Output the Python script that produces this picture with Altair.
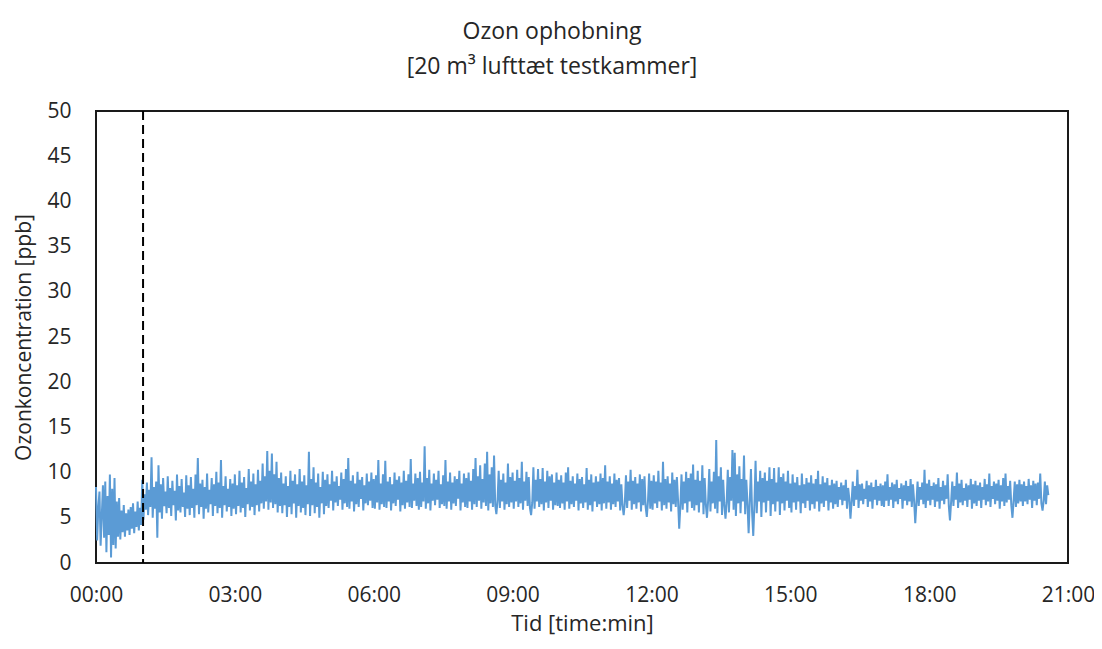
import altair as alt
import pandas as pd

# Ozone readings (ppb), one sample every 1.5 minutes, grouped per hour
h00 = [8.4, 2.5, 6.1, 7.9, 1.9, 5.2, 8.6, 2.8, 9.0, 1.2, 7.4, 3.1, 9.8, 0.6, 8.2, 2.0, 9.4, 1.6, 6.8, 2.9,
       7.2, 2.6, 5.8, 3.4, 6.4, 2.9, 5.5, 3.6, 5.9, 3.1, 6.2, 3.8, 6.6, 3.3, 5.7, 4.0, 6.8, 3.6, 6.1, 4.2]
h01 = [9.2, 4.8, 7.6, 5.9, 8.9, 5.3, 8.1, 6.2, 11.7, 5.0, 8.4, 6.0, 9.0, 2.8, 10.8, 5.6, 8.7, 4.9, 9.4, 6.3,
       7.9, 5.5, 9.6, 6.1, 8.3, 5.2, 9.1, 6.4, 8.0, 4.7, 9.8, 5.8, 8.5, 5.6, 9.3, 6.2, 7.8, 5.1, 9.7, 6.0]
h02 = [8.6, 5.3, 9.5, 6.1, 8.2, 5.0, 9.8, 6.4, 11.6, 5.4, 8.8, 6.2, 9.2, 4.9, 8.4, 6.0, 9.9, 5.6, 8.1, 6.5,
       9.4, 5.2, 8.7, 6.3, 10.1, 5.5, 8.9, 6.1, 11.4, 5.0, 8.5, 6.4, 9.6, 5.7, 8.2, 6.2, 9.3, 5.2, 8.8, 6.0]
h03 = [9.8, 5.4, 8.6, 6.3, 10.2, 5.6, 8.9, 6.1, 9.5, 5.1, 8.3, 6.5, 10.4, 5.8, 9.0, 6.2, 9.9, 5.3, 8.7, 6.4,
       10.3, 5.7, 9.1, 6.6, 11.0, 6.0, 9.6, 6.8, 12.4, 5.9, 10.2, 6.7, 12.1, 6.1, 9.8, 6.5, 11.2, 5.6, 9.4, 6.3]
h04 = [10.0, 5.5, 8.8, 6.4, 9.6, 5.1, 8.5, 6.2, 10.2, 5.4, 9.1, 6.6, 9.8, 5.0, 8.7, 6.3, 10.4, 5.6, 9.0, 6.1,
       9.7, 5.3, 8.6, 6.5, 12.3, 5.2, 9.3, 6.4, 10.6, 5.5, 8.9, 6.2, 9.9, 5.0, 8.4, 6.6, 10.1, 5.4, 9.2, 6.3]
h05 = [9.8, 6.1, 8.7, 6.9, 10.2, 5.8, 9.0, 6.7, 9.6, 6.3, 8.5, 7.0, 10.0, 5.9, 9.3, 6.6, 10.4, 6.2, 11.6, 6.0,
       9.1, 6.8, 9.7, 5.7, 8.8, 6.5, 10.1, 6.2, 9.2, 7.1, 9.5, 5.8, 8.6, 6.6, 9.9, 6.4, 9.0, 6.9, 10.0, 6.1]
h06 = [9.3, 6.0, 9.7, 6.7, 11.4, 5.9, 8.8, 6.5, 9.8, 6.2, 11.3, 6.1, 9.0, 6.8, 9.5, 5.8, 8.7, 6.6, 10.0, 6.3,
       9.2, 7.0, 9.6, 5.7, 8.9, 6.4, 10.2, 6.0, 9.1, 6.7, 9.8, 6.2, 11.5, 6.1, 8.8, 6.9, 9.9, 6.3, 9.4, 5.9]
h07 = [10.1, 6.2, 8.9, 6.8, 12.9, 6.0, 9.4, 6.6, 10.3, 5.8, 8.8, 6.9, 9.9, 6.4, 9.2, 7.0, 10.2, 6.1, 8.7, 6.5,
       9.7, 6.3, 11.4, 6.0, 9.0, 6.8, 10.0, 5.9, 8.9, 6.6, 9.6, 6.3, 9.3, 7.1, 10.2, 5.8, 8.8, 6.7, 9.9, 6.2]
h08 = [9.4, 6.1, 10.0, 6.8, 9.1, 5.9, 10.4, 6.5, 11.6, 6.2, 9.6, 6.9, 10.8, 6.0, 9.3, 6.7, 11.0, 6.3, 12.3, 5.8,
       9.8, 6.6, 10.6, 6.2, 11.9, 6.4, 5.4, 6.9, 10.2, 6.1, 9.2, 6.8, 9.9, 5.9, 8.9, 6.5, 11.0, 6.2, 9.5, 6.7]
h09 = [10.0, 6.0, 9.1, 6.8, 10.3, 6.2, 9.4, 6.6, 11.2, 5.9, 9.0, 6.9, 10.1, 6.3, 9.5, 6.1, 5.3, 6.7, 10.6, 6.0,
       9.2, 6.8, 10.4, 6.2, 9.3, 6.5, 10.5, 5.8, 9.0, 6.7, 10.2, 6.1, 9.6, 6.9, 9.8, 5.9, 8.9, 6.4, 10.0, 6.3]
h10 = [9.2, 6.1, 9.7, 6.6, 8.9, 5.9, 10.0, 6.8, 10.6, 6.0, 9.1, 6.5, 9.6, 6.2, 8.8, 6.9, 9.9, 5.8, 9.3, 6.6,
       9.5, 6.1, 8.7, 6.7, 10.5, 5.9, 9.2, 6.4, 9.8, 5.7, 8.9, 6.8, 9.6, 6.2, 9.0, 6.5, 9.9, 5.8, 9.4, 6.6]
h11 = [10.8, 6.0, 9.0, 6.7, 9.6, 5.9, 8.8, 6.5, 9.9, 6.2, 9.2, 6.8, 9.4, 5.8, 8.7, 6.4, 5.3, 6.6, 9.7, 6.1,
       9.0, 6.9, 10.3, 5.9, 9.1, 6.5, 9.5, 6.0, 8.8, 6.7, 9.8, 5.7, 9.3, 6.4, 9.6, 6.2, 5.1, 6.8, 9.9, 6.0]
h12 = [9.1, 5.9, 9.7, 6.6, 9.0, 6.1, 10.2, 6.8, 8.9, 5.8, 11.2, 6.4, 9.3, 6.0, 9.6, 6.7, 8.8, 5.7, 10.0, 6.5,
       9.2, 6.2, 9.5, 6.9, 3.8, 6.3, 9.8, 5.9, 9.0, 6.6, 10.1, 5.6, 9.4, 6.8, 9.9, 6.1, 10.9, 5.8, 9.2, 6.4]
h13 = [10.2, 5.6, 9.1, 6.7, 10.8, 5.4, 9.4, 6.5, 5.0, 6.9, 10.4, 5.7, 9.0, 6.6, 10.1, 6.0, 13.6, 5.5, 9.6, 6.8,
       10.6, 5.3, 9.2, 6.4, 4.9, 6.7, 10.3, 5.6, 9.5, 6.9, 12.5, 5.9, 12.2, 5.2, 9.8, 6.6, 10.7, 5.5, 9.3, 6.8]
h14 = [11.9, 5.4, 9.2, 6.6, 3.3, 6.9, 10.4, 5.6, 3.0, 6.5, 11.3, 5.5, 9.0, 6.8, 10.2, 5.1, 9.4, 6.7, 10.0, 5.6,
       9.1, 6.9, 10.6, 5.2, 9.3, 6.5, 10.5, 5.7, 8.9, 6.8, 10.6, 5.3, 9.5, 6.6, 9.9, 5.8, 9.0, 6.9, 10.2, 6.1]
h15 = [8.8, 5.6, 9.8, 6.7, 8.9, 5.9, 9.5, 6.8, 8.6, 5.5, 9.9, 6.6, 8.7, 6.1, 9.4, 6.9, 8.9, 5.8, 9.7, 6.5,
       8.8, 6.0, 9.3, 6.8, 10.2, 5.7, 8.7, 6.6, 9.6, 6.2, 8.9, 6.9, 9.4, 5.8, 8.6, 6.7, 9.2, 6.0, 8.8, 6.5]
h16 = [9.1, 6.2, 8.4, 7.0, 8.9, 6.4, 8.6, 6.9, 9.2, 6.0, 8.3, 7.1, 4.9, 6.8, 9.0, 6.3, 8.5, 7.0, 10.3, 6.1,
       8.7, 6.9, 8.8, 6.5, 8.2, 7.1, 9.1, 6.2, 8.6, 6.8, 8.9, 6.0, 8.4, 7.0, 9.2, 6.4, 8.5, 6.9, 8.8, 6.3]
h17 = [8.6, 6.2, 9.0, 6.9, 9.8, 6.3, 8.4, 7.0, 8.9, 6.1, 8.7, 6.8, 9.2, 6.5, 8.3, 7.1, 8.8, 6.0, 8.6, 6.9,
       9.1, 6.4, 8.5, 6.8, 9.3, 6.2, 8.7, 6.9, 4.4, 6.6, 9.0, 6.3, 8.4, 7.0, 8.9, 6.5, 10.3, 6.1, 8.8, 6.9]
h18 = [9.2, 6.4, 8.5, 7.0, 8.9, 6.2, 8.7, 6.8, 9.4, 6.0, 8.4, 6.9, 9.1, 6.5, 8.6, 7.1, 9.8, 6.3, 4.7, 6.8,
       9.0, 6.3, 8.5, 7.0, 10.0, 6.1, 8.8, 6.7, 9.2, 6.4, 8.3, 6.9, 8.8, 6.2, 8.6, 7.0, 9.3, 6.0, 8.7, 6.6]
h19 = [9.1, 6.3, 8.6, 6.9, 8.9, 6.1, 8.4, 7.0, 9.3, 6.4, 8.7, 6.8, 9.9, 6.2, 8.5, 7.1, 9.0, 6.5, 8.8, 6.9,
       9.2, 6.0, 8.6, 6.8, 9.4, 6.3, 9.9, 6.7, 8.5, 7.0, 9.1, 6.4, 5.0, 6.9, 9.0, 6.2, 8.7, 6.6, 9.2, 6.8]
h20 = [8.7, 6.3, 9.0, 6.8, 8.5, 6.5, 9.3, 7.0, 8.6, 6.1, 9.1, 6.9, 8.8, 6.4, 8.9, 7.1, 9.9, 6.6, 5.8, 6.9,
       9.0, 6.5, 8.6, 7.5]

ozone = h00 + h01 + h02 + h03 + h04 + h05 + h06 + h07 + h08 + h09 + h10 + \
    h11 + h12 + h13 + h14 + h15 + h16 + h17 + h18 + h19 + h20
sample_step_min = 1.5
minutes = [i * sample_step_min for i in range(len(ozone))]

x_ticks = [0, 180, 360, 540, 720, 900, 1080, 1260]
y_ticks = [0, 5, 10, 15, 20, 25, 30, 35, 40, 45, 50]
marker_minute = [61]

df = pd.DataFrame({"minute": minutes, "ppb": ozone})
marker_df = pd.DataFrame({"minute": marker_minute})

FONT = "Open Sans"
TXT = "#262626"

x_enc = alt.X(
    "minute:Q",
    scale=alt.Scale(domain=[0, 1260], nice=False, zero=False),
    axis=alt.Axis(
        values=x_ticks,
        labelExpr="(datum.value/60 < 10 ? '0' : '') + (datum.value/60) + ':00'",
        title="Tid [time:min]",
        grid=False, ticks=False, domain=False, labelFlush=False,
        labelFontSize=21, titleFontSize=22, labelPadding=21, titlePadding=8,
        labelColor=TXT, titleColor=TXT,
        labelFont=FONT, titleFont=FONT, titleFontWeight="normal",
    ),
)

line = alt.Chart(df).mark_line(color="#5B9BD5", strokeWidth=2.0).encode(
    x=x_enc,
    y=alt.Y(
        "ppb:Q",
        scale=alt.Scale(domain=[0, 50], nice=False),
        axis=alt.Axis(
            values=y_ticks,
            title="Ozonkoncentration [ppb]",
            grid=False, ticks=False, domain=False,
            labelFontSize=21, titleFontSize=21, labelPadding=25, titlePadding=12,
            labelColor=TXT, titleColor=TXT,
            labelFont=FONT, titleFont=FONT, titleFontWeight="normal",
        ),
    ),
)

rule = alt.Chart(marker_df).mark_rule(
    color="#000000", strokeWidth=2, strokeDash=[9, 5]
).encode(x="minute:Q")

chart = (
    alt.layer(line, rule)
    .properties(
        width=972,
        height=452,
        background="white",
        autosize=alt.AutoSizeParams(type="none"),
        padding={"left": 88, "top": 103, "right": 26, "bottom": 78},
        title=alt.TitleParams(
            text=["Ozon ophobning", "[20 m³ lufttæt testkammer]"],
            font=FONT, fontSize=23, fontWeight="normal", color=TXT,
            lineHeight=35, offset=21, dx=-30, anchor="middle",
        ),
    )
    .configure_view(stroke="#1a1a1a", strokeWidth=2)
)

chart.save("out.html", embed_options={"renderer": "svg", "actions": False})
